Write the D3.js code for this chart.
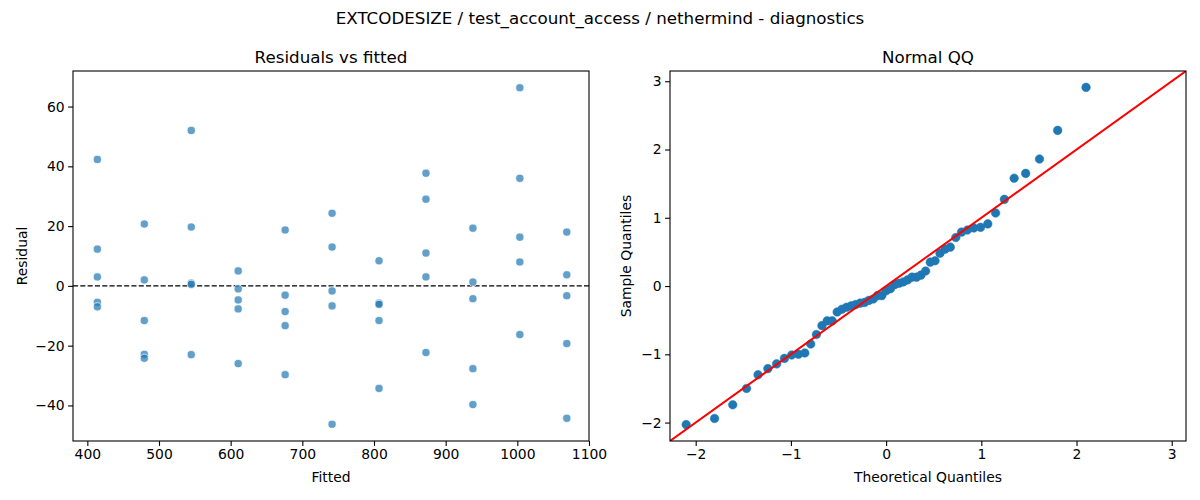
<!DOCTYPE html>
<html>
<head>
<meta charset="utf-8">
<script src="https://cdn.jsdelivr.net/npm/d3@7"></script>
<style>
  html, body { margin: 0; padding: 0; background: #fff; }
  svg { display: block; font-family: "DejaVu Sans", sans-serif; }
</style>
</head>
<body>
<svg id="chart" width="1200" height="500"></svg>
<script>
// ---- Data ----
const fittedLevels = [414, 479.5, 545, 610.5, 676, 741.5, 807, 872.5, 938, 1003.5, 1069];
const residualsByLevel = [
  [42.3, 12.3, 3.0, -5.5, -7.0],
  [20.7, 2.0, -11.6, -22.9, -24.2],
  [52.0, 19.7, 0.9, 0.5, -23.0],
  [5.0, -1.0, -4.7, -7.7, -26.0],
  [18.7, -3.1, -8.6, -13.3, -29.7],
  [24.3, 13.0, -1.7, -6.7, -46.3],
  [8.4, -5.8, -6.2, -11.6, -34.3],
  [37.7, 29.0, 11.0, 3.0, -22.3],
  [19.3, 1.3, -4.3, -27.7, -39.7],
  [66.3, 36.0, 16.3, 8.0, -16.3],
  [18.0, 3.7, -3.3, -19.3, -44.3]
];
const theoreticalQuantiles = [
  -2.100, -1.802, -1.611, -1.466, -1.345, -1.242, -1.150, -1.068, -0.992, -0.921,
  -0.854, -0.792, -0.732, -0.674, -0.619, -0.566, -0.514, -0.464, -0.415, -0.366,
  -0.319, -0.272, -0.226, -0.180, -0.135, -0.090, -0.045, 0.000, 0.045, 0.090,
  0.135, 0.180, 0.226, 0.272, 0.319, 0.366, 0.415, 0.464, 0.514, 0.566,
  0.619, 0.674, 0.732, 0.792, 0.854, 0.921, 0.992, 1.068, 1.150, 1.242,
  1.345, 1.466, 1.611, 1.802, 2.100
];
const sampleQuantiles = [
  -2.03, -1.94, -1.74, -1.50, -1.30, -1.21, -1.14, -1.06, -1.01, -1.00,
  -0.98, -0.85, -0.71, -0.58, -0.51, -0.51, -0.38, -0.34, -0.31, -0.29,
  -0.27, -0.25, -0.24, -0.21, -0.19, -0.14, -0.14, -0.07, -0.04, 0.02,
  0.04, 0.06, 0.09, 0.13, 0.13, 0.16, 0.22, 0.35, 0.37, 0.48,
  0.54, 0.57, 0.71, 0.79, 0.82, 0.85, 0.86, 0.91, 1.07, 1.27,
  1.58, 1.65, 1.86, 2.28, 2.91
];
const residTicks = [-40, -20, 0, 20, 40, 60];
const fittedTicks = [400, 500, 600, 700, 800, 900, 1000, 1100];
const qqTicks = [-2, -1, 0, 1, 2, 3];

const suptitle = "EXTCODESIZE / test_account_access / nethermind - diagnostics";
const leftTitle = "Residuals vs fitted";
const rightTitle = "Normal QQ";

// ---- Layout ----
const svg = d3.select("#chart");
const plotTop = 71, plotBottom = 441;
const L = { x0: 73, x1: 589 };
const R = { x0: 670, x1: 1186 };
const C0 = "#1f77b4";
const tickLen = 4.9, tickPad = 3.5;
const minus = d => d < 0 ? "\u2212" + Math.abs(d) : String(d);

function styleAxis(g) {
  g.selectAll("path").remove();
  g.selectAll("line").attr("stroke", "#000").attr("stroke-width", 1.1);
  g.selectAll("text").attr("font-size", "13.9px").attr("fill", "#000")
    .attr("font-family", "DejaVu Sans, sans-serif");
}

// Suptitle
svg.append("text").attr("x", 600).attr("y", 24).attr("text-anchor", "middle")
  .attr("font-size", "16.7px").text(suptitle);

// ===== Left panel =====
const points = [];
fittedLevels.forEach((f, i) => residualsByLevel[i].forEach(r => points.push({ f, r })));

const xL = d3.scaleLinear().domain([380, 1100]).range([L.x0, L.x1]);
const yL = d3.scaleLinear().domain([-51.9, 71.9]).range([plotBottom, plotTop]);

const gL = svg.append("g");
gL.append("clipPath").attr("id", "clipL").append("rect")
  .attr("x", L.x0).attr("y", plotTop).attr("width", L.x1 - L.x0).attr("height", plotBottom - plotTop);

gL.append("line").attr("x1", L.x0).attr("x2", L.x1)
  .attr("y1", yL(0)).attr("y2", yL(0))
  .attr("stroke", "#000").attr("stroke-width", 1.3).attr("stroke-dasharray", "5.1,2.2");

gL.append("g").attr("clip-path", "url(#clipL)").selectAll("circle").data(points).join("circle")
  .attr("cx", d => xL(d.f)).attr("cy", d => yL(d.r)).attr("r", 4.1)
  .attr("fill", C0).attr("fill-opacity", 0.7)
  .attr("stroke", "#fff").attr("stroke-opacity", 0.7).attr("stroke-width", 1);

gL.append("g").attr("transform", `translate(0,${plotBottom})`)
  .call(d3.axisBottom(xL).tickValues(fittedTicks).tickSize(tickLen).tickPadding(tickPad)
    .tickFormat(d3.format("d"))).call(styleAxis);
gL.append("g").attr("transform", `translate(${L.x0},0)`)
  .call(d3.axisLeft(yL).tickValues(residTicks).tickSize(tickLen).tickPadding(tickPad)
    .tickFormat(minus)).call(styleAxis);

gL.append("rect").attr("x", L.x0).attr("y", plotTop).attr("width", L.x1 - L.x0).attr("height", plotBottom - plotTop)
  .attr("fill", "none").attr("stroke", "#000").attr("stroke-width", 1.1);

gL.append("text").attr("x", (L.x0 + L.x1) / 2).attr("y", 62.5).attr("text-anchor", "middle")
  .attr("font-size", "16.7px").text(leftTitle);
gL.append("text").attr("x", (L.x0 + L.x1) / 2).attr("y", 482).attr("text-anchor", "middle")
  .attr("font-size", "13.9px").text("Fitted");
gL.append("text").attr("transform", `translate(27,${(plotTop + plotBottom) / 2}) rotate(-90)`)
  .attr("text-anchor", "middle").attr("font-size", "13.9px").text("Residual");

// ===== Right panel =====
const qq = theoreticalQuantiles.map((t, i) => ({ t, s: sampleQuantiles[i] }));
const qqDomain = [-2.27, 3.15];
const xR = d3.scaleLinear().domain(qqDomain).range([R.x0, R.x1]);
const yR = d3.scaleLinear().domain(qqDomain).range([plotBottom, plotTop]);

const gR = svg.append("g");
gR.append("clipPath").attr("id", "clipR").append("rect")
  .attr("x", R.x0).attr("y", plotTop).attr("width", R.x1 - R.x0).attr("height", plotBottom - plotTop);

gR.append("g").attr("clip-path", "url(#clipR)").selectAll("circle").data(qq).join("circle")
  .attr("cx", d => xR(d.t)).attr("cy", d => yR(d.s)).attr("r", 4.3)
  .attr("fill", C0).attr("stroke", C0).attr("stroke-width", 0.5);

gR.append("line").attr("clip-path", "url(#clipR)")
  .attr("x1", xR(qqDomain[0])).attr("y1", yR(qqDomain[0]))
  .attr("x2", xR(qqDomain[1])).attr("y2", yR(qqDomain[1]))
  .attr("stroke", "#ff0000").attr("stroke-width", 2);

gR.append("g").attr("transform", `translate(0,${plotBottom})`)
  .call(d3.axisBottom(xR).tickValues(qqTicks).tickSize(tickLen).tickPadding(tickPad)
    .tickFormat(minus)).call(styleAxis);
gR.append("g").attr("transform", `translate(${R.x0},0)`)
  .call(d3.axisLeft(yR).tickValues(qqTicks).tickSize(tickLen).tickPadding(tickPad)
    .tickFormat(minus)).call(styleAxis);

gR.append("rect").attr("x", R.x0).attr("y", plotTop).attr("width", R.x1 - R.x0).attr("height", plotBottom - plotTop)
  .attr("fill", "none").attr("stroke", "#000").attr("stroke-width", 1.1);

gR.append("text").attr("x", (R.x0 + R.x1) / 2).attr("y", 62.5).attr("text-anchor", "middle")
  .attr("font-size", "16.7px").text(rightTitle);
gR.append("text").attr("x", (R.x0 + R.x1) / 2).attr("y", 482).attr("text-anchor", "middle")
  .attr("font-size", "13.9px").text("Theoretical Quantiles");
gR.append("text").attr("transform", `translate(631,${(plotTop + plotBottom) / 2}) rotate(-90)`)
  .attr("text-anchor", "middle").attr("font-size", "13.9px").text("Sample Quantiles");
</script>
</body>
</html>
